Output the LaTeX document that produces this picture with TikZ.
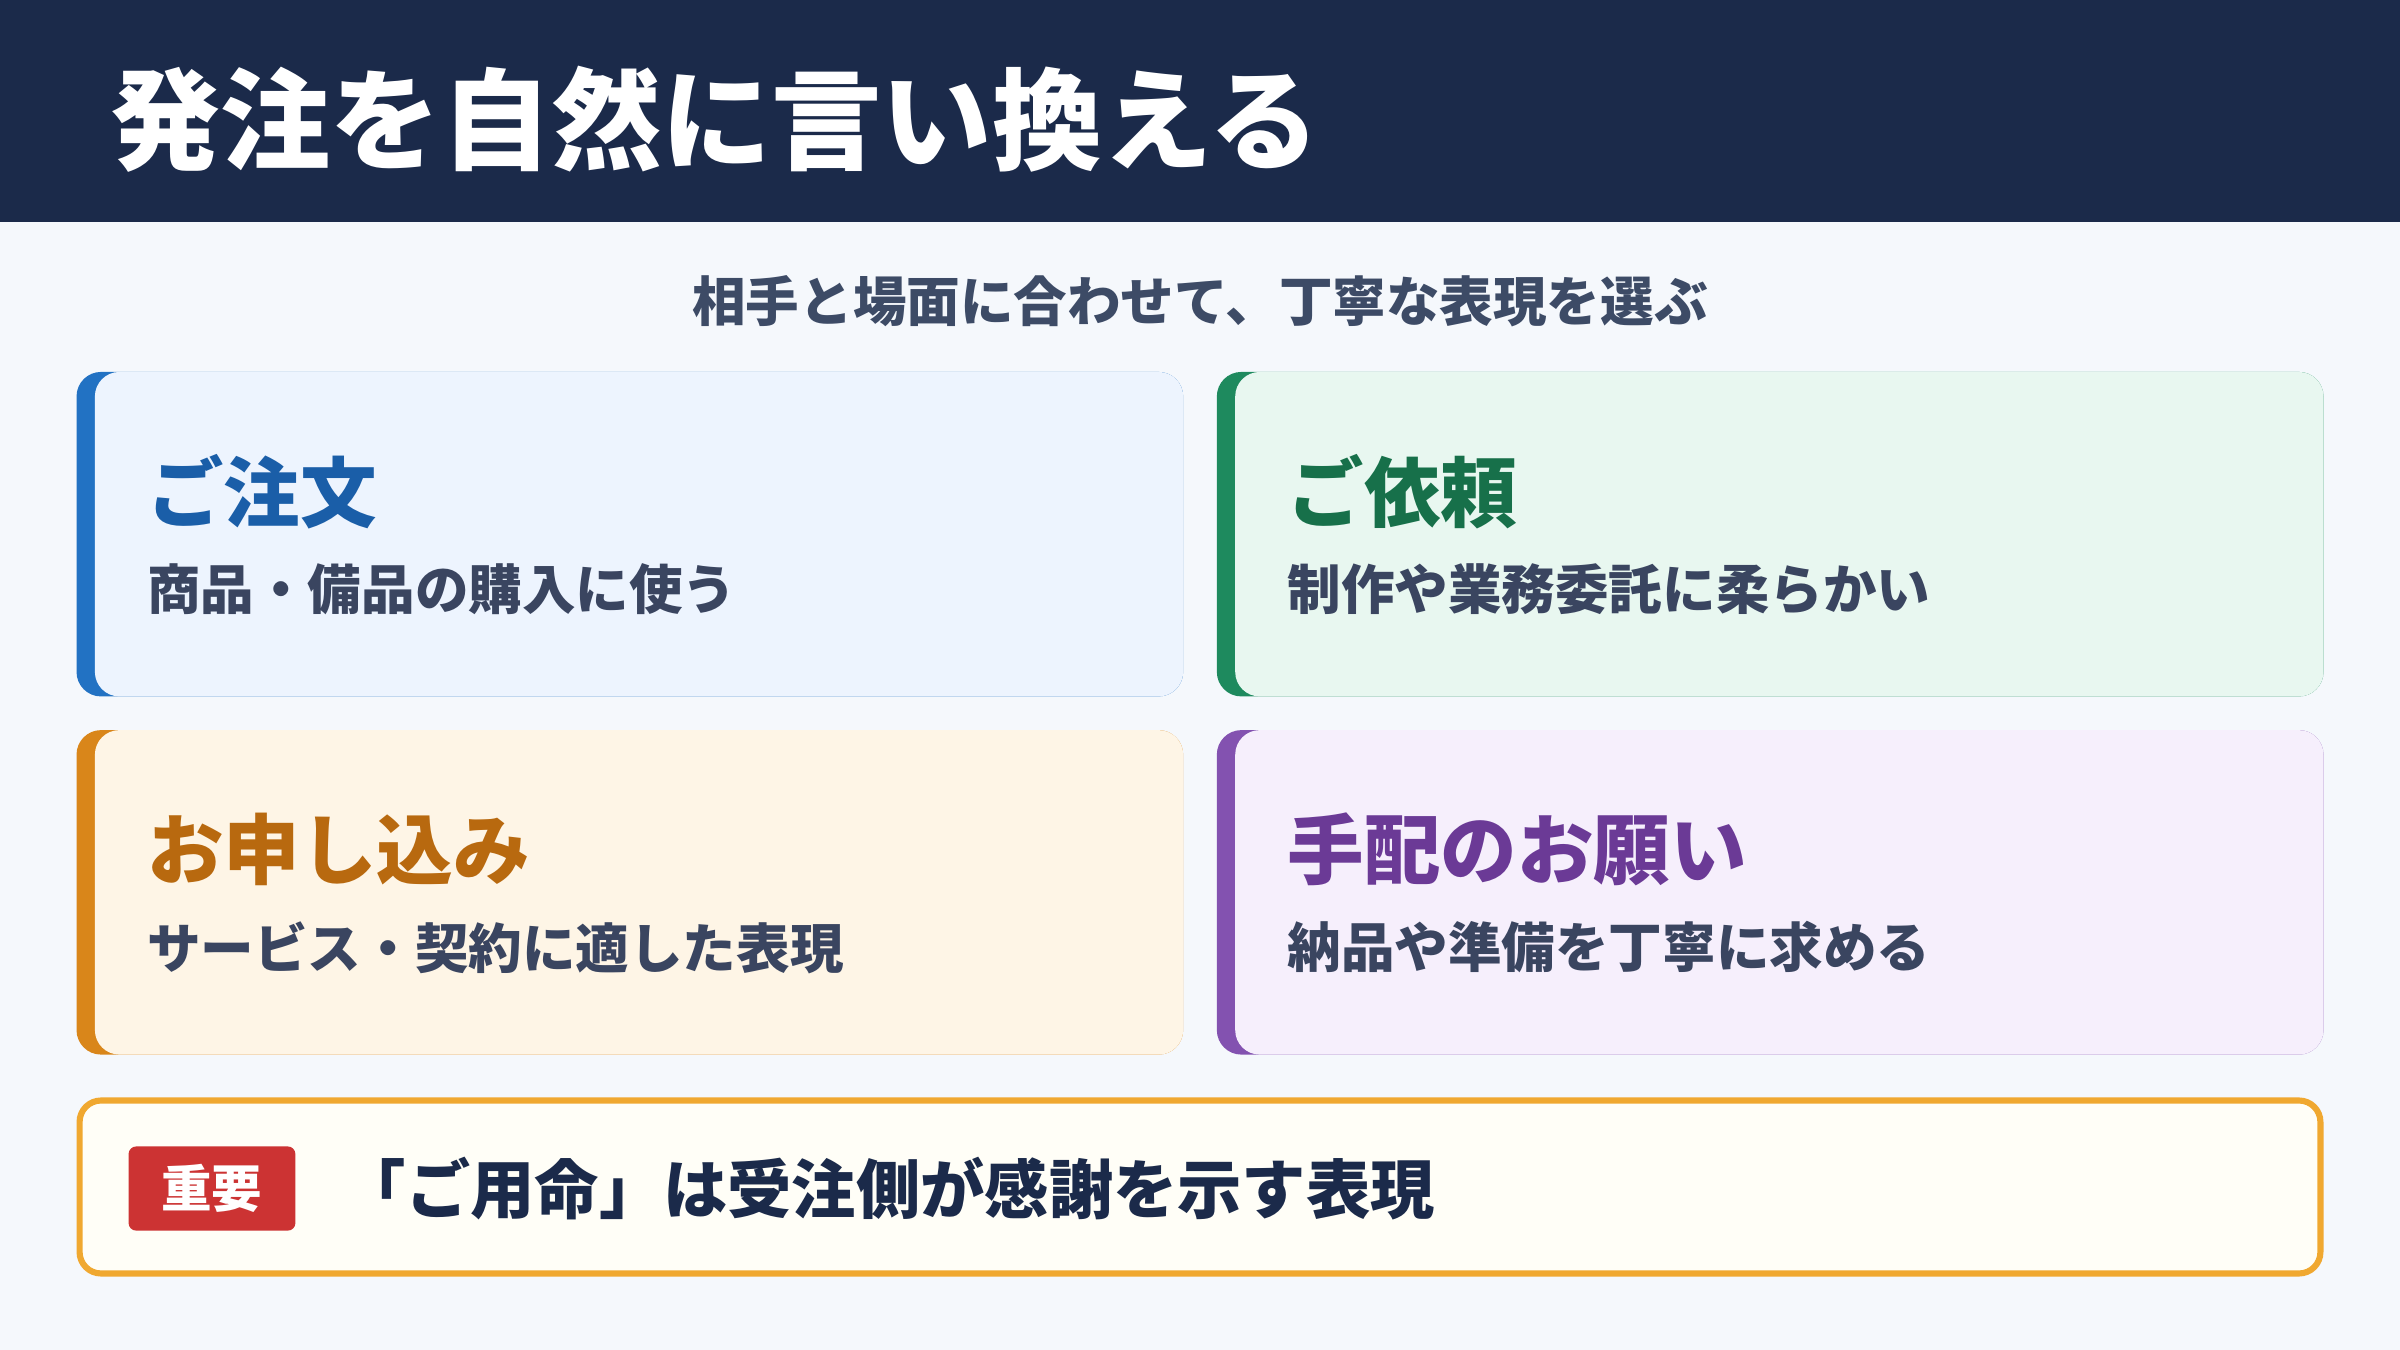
\documentclass[tikz,border=0pt]{standalone}
\usepackage{fontspec}
\setmainfont{Noto Sans CJK JP}
\usepackage{xcolor}
\definecolor{navy}{HTML}{1B2A4A}
\definecolor{pagebg}{HTML}{F5F8FC}
\definecolor{subgray}{HTML}{3D4B66}
\definecolor{desc}{HTML}{3A4560}
\definecolor{blueA}{HTML}{2272C3}\definecolor{blueF}{HTML}{EDF4FE}\definecolor{blueT}{HTML}{1A5EA8}
\definecolor{greenA}{HTML}{1E8A5E}\definecolor{greenF}{HTML}{E8F7F0}\definecolor{greenT}{HTML}{17704A}
\definecolor{orangeA}{HTML}{D9861A}\definecolor{orangeF}{HTML}{FEF5E6}\definecolor{orangeT}{HTML}{B8690F}
\definecolor{purpleA}{HTML}{8352B0}\definecolor{purpleF}{HTML}{F6EFFC}\definecolor{purpleT}{HTML}{6B3A96}
\definecolor{noteB}{HTML}{F0A830}\definecolor{noteF}{HTML}{FFFEF7}\definecolor{badge}{HTML}{CC3333}
\usetikzlibrary{positioning}
% one card: #1 accent, #2 fill, #3 title colour, #4 x, #5 y, #6 title, #7 text, #8 name
\newcommand{\wordcard}[8]{%
  \fill[#1, rounded corners=16pt] (#4,#5) rectangle ++(723,212);
  \fill[#2, rounded corners=16pt] (#4+12,#5) rectangle ++(711,212);
  \node[cardtitle, text=#3] (#8) at (#4+46,#5+78) {#6};
  \node[carddesc] (#8-desc) at (#4+46,#5+142) {#7};
}
\begin{document}
\begin{tikzpicture}
  [x=1pt, y=-1pt,
   cardtitle/.style={anchor=west, inner sep=0pt, font=\bfseries\fontsize{50}{54}\selectfont},
   carddesc/.style={anchor=west, inner sep=0pt, text=desc, font=\bfseries\fontsize{35}{40}\selectfont}]

  % background and header
  \fill[pagebg] (0,0) rectangle (1568,882);
  \useasboundingbox (0,0) rectangle (1568,882);
  \fill[navy] (0,0) rectangle (1568,145);
  \node[anchor=west, inner sep=0pt, text=white, font=\bfseries\fontsize{72}{78}\selectfont]
    (title) at (72,78) {発注を自然に言い換える};
  \node[inner sep=0pt, text=subgray, font=\bfseries\fontsize{35}{40}\selectfont]
    (subtitle) at (784,197) {相手と場面に合わせて、丁寧な表現を選ぶ};

  % cards
  \wordcard{blueA}{blueF}{blueT}{50}{243}{ご注文}{商品・備品の購入に使う}{order}
  \wordcard{greenA}{greenF}{greenT}{795}{243}{ご依頼}{制作や業務委託に柔らかい}{request}
  \wordcard{orangeA}{orangeF}{orangeT}{50}{477}{お申し込み}{サービス・契約に適した表現}{apply}
  \wordcard{purpleA}{purpleF}{purpleT}{795}{477}{手配のお願い}{納品や準備を丁寧に求める}{arrange}

  % note
  \draw[noteB, fill=noteF, line width=4pt, rounded corners=14pt] (52,719) rectangle (1516,832);
  \node[fill=badge, rounded corners=5pt, minimum width=109pt, minimum height=55pt,
        text=white, font=\bfseries\fontsize{33}{36}\selectfont] (badge) at (138.5,776.5) {重要};
  \node[right=30pt of badge, inner sep=0pt, text=navy, font=\bfseries\fontsize{42}{46}\selectfont]
    (note) {「ご用命」は受注側が感謝を示す表現};
\end{tikzpicture}
\end{document}
